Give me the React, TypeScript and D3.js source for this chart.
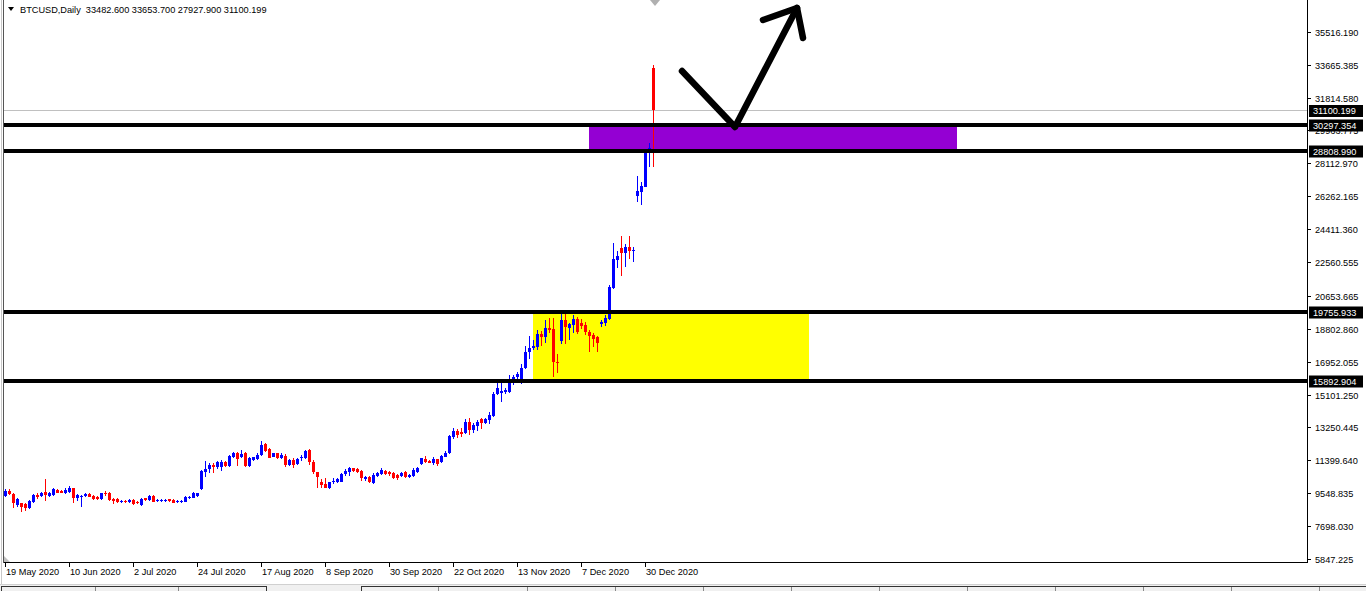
import React from "react";
import * as d3 from "d3";

const W = 1366;
const H = 591;

const symbolTitle = "BTCUSD,Daily";
const headerValues = ["33482.600", "33653.700", "27927.900", "31100.199"];

const dateLabels = [
  "19 May 2020", "10 Jun 2020", "2 Jul 2020", "24 Jul 2020", "17 Aug 2020", "8 Sep 2020",
  "30 Sep 2020", "22 Oct 2020", "13 Nov 2020", "7 Dec 2020", "30 Dec 2020",
];
const dateLabelBars = [0, 16, 32, 48, 64, 80, 96, 112, 128, 144, 160];

const priceTicks = [
  35516.19, 33665.385, 31814.58, 29963.775, 28112.97, 26262.165, 24411.36, 22560.555,
  20653.665, 18802.86, 16952.055, 15101.25, 13250.445, 11399.64, 9548.835, 7698.03, 5847.225,
];

const levelPrices = [30297.354, 28808.99, 19755.933, 15892.904];
const bidPrice = 31100.199;

// zones: [startBar, endBar, lowPrice, highPrice]
const purpleZone = [146, 238, 28808.99, 30297.354];
const yellowZone = [132, 201, 15892.904, 19755.933];

// hand-drawn arrow: [bar, price]
const arrowPath = [[169.25, 33308], [182.5, 30157], [198, 36853]];
const arrowHead = [[189.5, 36178], [198, 36853], [199.5, 35165]];

const opens = [
  9393, 9691, 9506, 8887, 8982, 8926, 8701, 9072, 9449, 9393,
  9618, 9410, 9449, 9731, 9674, 9579, 9635, 9826, 9264, 9354,
  9393, 9489, 9393, 9354, 9207, 9579, 9579, 9207, 9224, 9039,
  9112, 9039, 9168, 9055, 8887, 9264, 9168, 9393, 9112, 9120,
  9110, 9207, 9168, 9039, 9055, 9072, 9264, 9297, 9410, 9770,
  10760, 10895, 11137, 11008, 11008, 11323, 11081, 11604, 11796, 11571,
  11796, 11081, 11419, 11458, 11700, 12302, 12038, 11604, 11796, 11548,
  11661, 11137, 11419, 11177, 11514, 11548, 11981, 11323, 10727, 10198,
  10051, 9860, 10164, 10198, 10198, 10614, 10760, 10952, 10912, 10800,
  10350, 10479, 10108, 10535, 10614, 10800, 10727, 10670, 10575, 10518,
  10760, 10445, 10518, 10760, 11194, 11458, 11379, 11233, 11458, 11323,
  11604, 11796, 12730, 13051, 13011, 12921, 13574, 13107, 13332, 13743,
  13518, 13670, 13895, 15133, 15206, 15262, 15262, 15735, 16072, 15735,
  16579, 17513, 17704, 17794, 18509, 18323, 18829, 18773, 16950, 18132,
  19297, 18829, 19015, 19336, 19111, 19015, 18638, 18453, 18323, 19072,
  19145, 19336, 21080, 22673, 23331, 23084, 23387, 23196, 26274, 26516,
  26797, 28900, 33482.6,
];
const highs = [
  9770, 9770, 9562, 9264, 9027, 8982, 9168, 9506, 9545, 9635,
  10333, 9635, 9826, 9770, 9714, 9826, 9956, 9871, 9506, 9449,
  9562, 9545, 9449, 9393, 9579, 9691, 9618, 9264, 9264, 9168,
  9151, 9207, 9207, 9112, 9264, 9297, 9432, 9432, 9224, 9230,
  9220, 9241, 9207, 9151, 9168, 9393, 9393, 9618, 9579, 10856,
  11379, 11233, 11267, 11379, 11419, 11362, 11700, 11886, 11886, 11981,
  11886, 11571, 11604, 11796, 12488, 12358, 12077, 11829, 11829, 11796,
  11739, 11458, 11514, 11514, 11700, 11981, 12021, 11419, 10760, 10350,
  10389, 10198, 10389, 10423, 10670, 10912, 11042, 10985, 10985, 10856,
  10518, 10535, 10670, 10727, 10952, 10856, 10800, 10727, 10614, 10760,
  10800, 10614, 10952, 11025, 11548, 11644, 11419, 11571, 11492, 11700,
  11942, 12809, 13202, 13146, 13202, 13709, 13765, 13518, 13670, 13799,
  13765, 14137, 15262, 15768, 15735, 15453, 16202, 16202, 16387, 16821,
  17834, 18396, 18171, 18734, 18695, 19297, 19392, 19409, 17383, 19634,
  19634, 19145, 19578, 19448, 19336, 19201, 18734, 18582, 18396, 19297,
  19578, 21266, 23646, 23196, 24023, 23573, 24023, 23387, 27399, 27079,
  28902, 29239, 33653.7,
];
const lows = [
  9354, 9449, 8701, 8791, 8510, 8566, 8662, 9016, 9207, 9337,
  9129, 9320, 9393, 9545, 9545, 9506, 9579, 8982, 9129, 8791,
  9337, 9320, 9168, 9151, 9168, 9393, 9112, 8926, 8982, 8982,
  8982, 8999, 8887, 8926, 8830, 9129, 9129, 9039, 9055, 9060,
  9050, 9072, 8982, 8999, 9016, 9039, 9224, 9264, 9354, 9731,
  10479, 10704, 10704, 10895, 10817, 11025, 11008, 11514, 11081, 11514,
  11042, 11042, 11379, 11419, 11661, 11852, 11514, 11571, 11475, 11475,
  11042, 11098, 10985, 11137, 11362, 11475, 11137, 10614, 9860, 9826,
  9826, 9787, 10051, 10108, 10164, 10535, 10535, 10743, 10670, 10237,
  10237, 10108, 10051, 10479, 10575, 10575, 10535, 10350, 10293, 10462,
  10406, 10406, 10462, 10687, 11137, 11233, 11233, 11137, 11081, 11267,
  11571, 11756, 12583, 12640, 12696, 12882, 12825, 12921, 13067, 13146,
  13444, 13444, 13855, 15076, 14699, 15133, 15172, 15639, 15960, 15695,
  16522, 17085, 17609, 17609, 17834, 17985, 18548, 16106, 16331, 17946,
  17946, 18171, 18582, 18509, 18773, 18453, 17513, 17794, 17513, 18919,
  18959, 19297, 21041, 22206, 21772, 22296, 22712, 22577, 25953, 25768,
  26781, 27889, 27927.9,
];
const closes = [
  9691, 9506, 8982, 9207, 8791, 8701, 9129, 9449, 9320, 9579,
  9449, 9545, 9770, 9579, 9579, 9731, 9826, 9264, 9449, 9393,
  9506, 9354, 9207, 9207, 9545, 9506, 9168, 9129, 9039, 9129,
  9039, 9168, 8943, 8982, 9207, 9168, 9393, 9072, 9168, 9175,
  9165, 9112, 9016, 9112, 9129, 9354, 9354, 9579, 9545, 10817,
  10895, 11137, 11008, 11323, 11323, 11081, 11644, 11796, 11458, 11756,
  11081, 11514, 11571, 11700, 12263, 11925, 11548, 11796, 11514, 11700,
  11137, 11419, 11137, 11475, 11604, 11925, 11289, 10727, 10479, 10012,
  9860, 10198, 10254, 10350, 10614, 10800, 10952, 10800, 10760, 10389,
  10479, 10164, 10575, 10670, 10856, 10614, 10614, 10423, 10389, 10704,
  10445, 10575, 10856, 10952, 11514, 11323, 11267, 11475, 11194, 11644,
  11829, 12769, 13051, 12825, 12882, 13574, 13107, 13388, 13574, 13484,
  13709, 13951, 15133, 15453, 15318, 15358, 15735, 16106, 16241, 16579,
  17513, 17704, 17834, 18509, 18323, 18829, 18734, 16950, 16894, 19297,
  18919, 19072, 19336, 18638, 18959, 18638, 18396, 18211, 18019, 19201,
  19392, 21170, 22712, 22898, 23084, 23387, 23196, 23236, 26572, 26837,
  28902, 28960, 31100.199,
];

const PL = 4;
const PR = 1307;
const PT = 0;
const PB = 562;
const FONT = "'Liberation Sans', Arial, sans-serif";

export default function App() {
  const x = d3.scaleLinear().domain([0, 325.5]).range([5, 1307]);
  const y = d3.scaleLinear().domain([15892.904, 30297.354]).range([380.5, 124.5]);
  const bx = (i: number) => Math.round(x(i));

  const candles = opens.map((o, i) => {
    const c = closes[i];
    const up = c >= o;
    const col = up ? "#0000FF" : "#FF0000";
    const xc = bx(i);
    const yh = Math.round(y(highs[i]));
    const yl = Math.round(y(lows[i]));
    const yt = Math.round(y(Math.max(o, c)));
    const yb = Math.round(y(Math.min(o, c)));
    return (
      <g key={i}>
        <rect x={xc} y={yh} width={1} height={Math.max(1, yl - yh)} fill={col} />
        <rect x={xc - 1} y={yt} width={3} height={Math.max(1, yb - yt)} fill={col} />
      </g>
    );
  });

  const line = d3.line<number[]>().x((d) => x(d[0])).y((d) => y(d[1]));

  // tab strip separators
  const tabSepsLeft = [95, 178];
  const tabSepsRight = [438, 527, 615, 703, 791, 879, 967, 1055, 1143, 1231, 1319];

  const headerText = `${symbolTitle}  ${headerValues.join(" ")}`;

  return (
    <svg
      width={W}
      height={H}
      style={{ position: "absolute", left: 0, top: 0, display: "block", background: "#fff" }}
      fontFamily={FONT}
    >
      <defs>
        <clipPath id="plot">
          <rect x={PL} y={PT} width={PR - PL} height={PB - PT} />
        </clipPath>
      </defs>
      <rect x={0} y={0} width={W} height={H} fill="#fff" />

      <g clipPath="url(#plot)" shapeRendering="crispEdges">
        <rect
          x={x(yellowZone[0])}
          y={y(yellowZone[3])}
          width={x(yellowZone[1]) - x(yellowZone[0])}
          height={y(yellowZone[2]) - y(yellowZone[3])}
          fill="#FFFF00"
        />
        <rect
          x={x(purpleZone[0])}
          y={y(purpleZone[3])}
          width={x(purpleZone[1]) - x(purpleZone[0])}
          height={y(purpleZone[2]) - y(purpleZone[3])}
          fill="#9400D3"
        />
        <line x1={PL} x2={PR} y1={Math.round(y(bidPrice)) + 0.5} y2={Math.round(y(bidPrice)) + 0.5} stroke="#C0C0C0" strokeWidth={1} />
        {candles}
        {levelPrices.map((p, i) => (
          <rect key={i} x={PL} y={Math.round(y(p)) - 2} width={PR - PL} height={4} fill="#000" />
        ))}
      </g>

      <g fill="none" stroke="#000" strokeWidth={6.5} strokeLinecap="round" strokeLinejoin="round">
        <path d={line(arrowPath) || ""} />
        <path d={line(arrowHead) || ""} />
      </g>

      <path d={`M${x(162.5) - 5},0 L${x(162.5) + 5},0 L${x(162.5)},6 Z`} fill="#B0B0B0" />

      <g shapeRendering="crispEdges">
        <line x1={1.5} x2={1.5} y1={0} y2={584} stroke="#C8C8C8" />
        <line x1={3.5} x2={3.5} y1={0} y2={PB + 1} stroke="#555" />
        <line x1={PR + 0.5} x2={PR + 0.5} y1={0} y2={PB + 1} stroke="#000" />
        <line x1={PL} x2={PR + 1} y1={PB + 0.5} y2={PB + 0.5} stroke="#000" />
      </g>
      <path d={`M4,556 L4,562 L10,562 Z`} fill="#C0C0C0" />

      <g shapeRendering="crispEdges">
        {priceTicks.map((p, i) => {
          const yy = Math.round(y(p)) + 0.5;
          return (
            <g key={i}>
              <line x1={PR} x2={PR + 4} y1={yy} y2={yy} stroke="#000" />
              <text x={PR + 8} y={yy} dy="0.35em" fontSize={9.2} fill="#000" shapeRendering="auto">
                {p.toFixed(3)}
              </text>
            </g>
          );
        })}
      </g>
      {[bidPrice, ...levelPrices].map((p, i) => {
        const yy = Math.round(y(p)) + (i === 0 ? 1 : 0.5);
        return (
          <g key={`lb${i}`}>
            <rect x={PR + 2} y={yy - 6} width={54} height={12} fill="#000" />
            <text x={PR + 6} y={yy} dy="0.35em" fontSize={9.2} fill="#fff">
              {p.toFixed(3)}
            </text>
          </g>
        );
      })}

      <g shapeRendering="crispEdges">
        {dateLabelBars.map((b) => (
          <line key={b} x1={bx(b) + 0.5} x2={bx(b) + 0.5} y1={PB} y2={PB + 5} stroke="#000" />
        ))}
      </g>
      {dateLabels.map((t, i) => (
        <text key={t} x={bx(dateLabelBars[i]) + 1} y={575} fontSize={9.2} fill="#000">
          {t}
        </text>
      ))}

      <path d="M8,7 L14,7 L11,11 Z" fill="#000" />
      <text x={20} y={12.5} fontSize={9.2} fill="#000" style={{ whiteSpace: "pre" }}>
        {headerText}
      </text>

      <g shapeRendering="crispEdges">
        <rect x={0} y={584} width={W} height={7} fill="#F0F0F0" />
        <line x1={0} x2={W} y1={584.5} y2={584.5} stroke="#D0D0D0" />
        <rect x={1.5} y={586.5} width={265} height={6} fill="#F0F0F0" stroke="#333" />
        {tabSepsLeft.map((s) => (
          <line key={s} x1={s + 0.5} x2={s + 0.5} y1={587} y2={591} stroke="#888" />
        ))}
        <rect x={361.5} y={586.5} width={1010} height={6} fill="#F0F0F0" stroke="#333" />
        {tabSepsRight.map((s) => (
          <line key={s} x1={s + 0.5} x2={s + 0.5} y1={587} y2={591} stroke="#888" />
        ))}
      </g>
    </svg>
  );
}
